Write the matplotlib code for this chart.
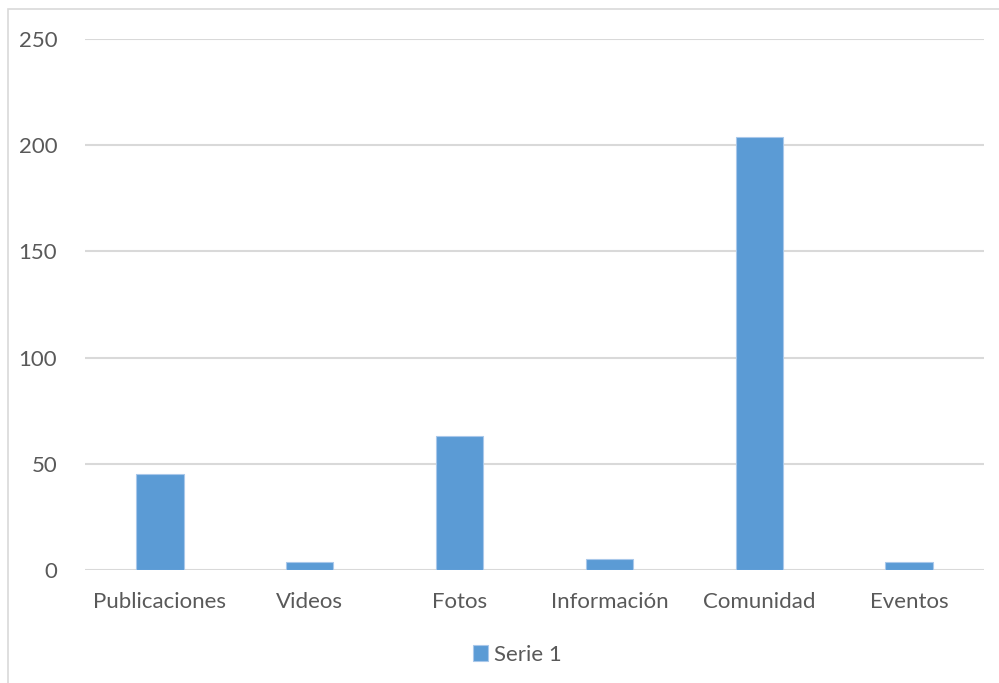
import matplotlib.pyplot as plt
from matplotlib.patches import Rectangle
import numpy as np

plt.rcParams["font.family"] = ["Lato", "DejaVu Sans"]

categorias = ["Publicaciones", "Videos", "Fotos", "Información", "Comunidad", "Eventos"]
valores = [45, 4, 63, 5, 204, 4]
serie = "Serie 1"
y_ticks = [0, 50, 100, 150, 200, 250]

texto = "#595959"
barra = "#5b9bd5"
rejilla = "#d9d9d9"

fig = plt.figure(figsize=(9.99, 6.83), dpi=100)
fig.patch.set_facecolor("white")

# chart frame (left and top edges visible)
fig.add_artist(Rectangle((8 / 999, -0.05), 1.2, 1 - 9 / 683 + 0.05,
                         transform=fig.transFigure, fill=False,
                         edgecolor=rejilla, linewidth=1.2))

ax = fig.add_axes([85 / 999, 1 - 570 / 683, 899 / 999, 531 / 683])
x = np.arange(len(categorias))
ax.bar(x, valores, width=0.315, color=barra, edgecolor="#a9c8ea",
       linewidth=0.8, label=serie, zorder=3)

ax.set_xlim(-0.5, len(categorias) - 0.5)
ax.set_ylim(0, 250)
ax.set_yticks(y_ticks)
ax.set_xticks(x)
ax.set_xticklabels(categorias)
ax.tick_params(axis="both", length=0, colors=texto, labelsize=16)
ax.tick_params(axis="y", pad=20)
ax.tick_params(axis="x", pad=16)
ax.grid(axis="y", color=rejilla, linewidth=1.5, zorder=0)
for s in ax.spines.values():
    s.set_visible(False)

ax.legend(loc="center", bbox_to_anchor=(517 / 999, 1 - 655 / 683),
          bbox_transform=fig.transFigure, frameon=False, fontsize=16,
          handlelength=0.7, handleheight=0.7, handletextpad=0.25,
          labelcolor=texto)

fig.savefig("out.png", dpi=100, facecolor="white")
